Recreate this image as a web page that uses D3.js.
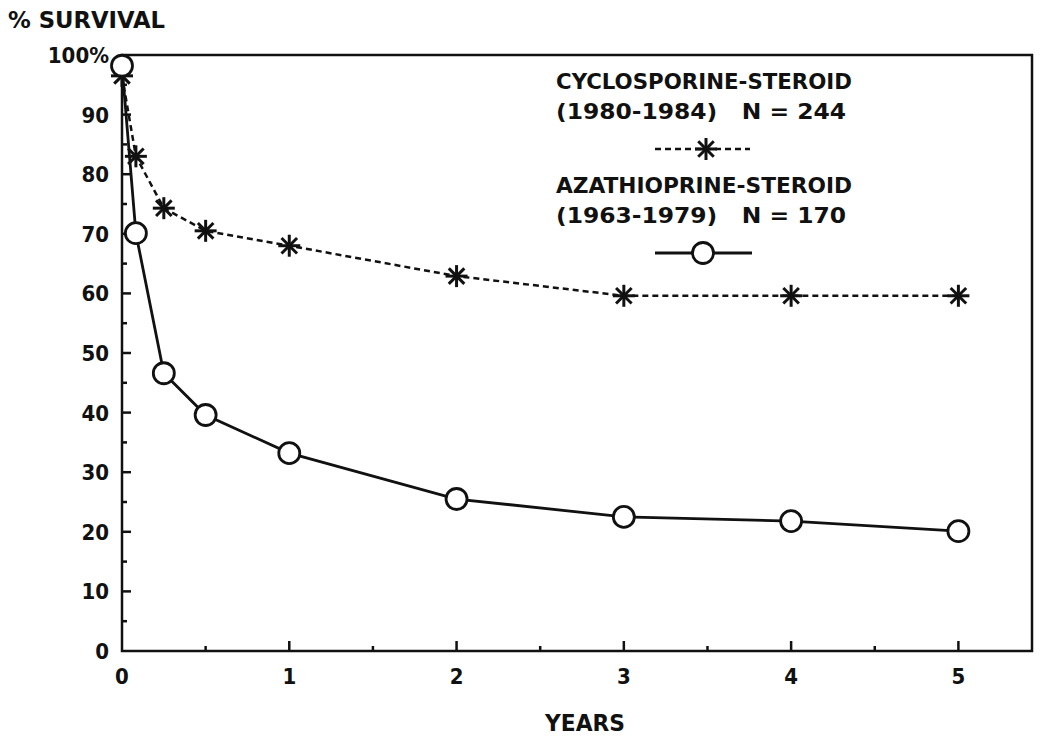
<!DOCTYPE html>
<html>
<head>
<meta charset="utf-8">
<script src="https://cdn.jsdelivr.net/npm/d3@7"></script>
<style>
  body { margin: 0; background: #fff; }
  text { font-family: "DejaVu Sans Condensed", "DejaVu Sans", sans-serif; font-stretch: condensed; font-weight: bold; fill: #111; }
</style>
</head>
<body>
<svg id="chart" width="1050" height="738"></svg>
<script>
// data (years, % survival)
var years = [0, 0.083, 0.25, 0.5, 1, 2, 3, 4, 5];
var cyclosporine = [96.5, 83, 74.3, 70.5, 68, 62.9, 59.6, 59.6, 59.6];
var azathioprine = [98.2, 70.1, 46.6, 39.6, 33.2, 25.5, 22.5, 21.8, 20.1];

var xTicks = [0, 1, 2, 3, 4, 5];
var yTicks = [0, 10, 20, 30, 40, 50, 60, 70, 80, 90, 100];

var svg = d3.select("#chart");

var x = d3.scaleLinear().domain([0, 5.44]).range([122, 1032]);
var y = d3.scaleLinear().domain([0, 100]).range([651, 55]);

// frame
svg.append("rect")
	.attr("x", x(0)).attr("y", y(100))
	.attr("width", x(5.44) - x(0)).attr("height", y(0) - y(100))
	.attr("fill", "none").attr("stroke", "#111").attr("stroke-width", 2.5);

// y ticks, inward, minor every 5
var yMinor = d3.range(5, 100, 10);
svg.append("g").selectAll("line.ymaj")
	.data(yTicks.slice(1, -1))
	.join("line")
	.attr("x1", x(0)).attr("x2", x(0) + 9)
	.attr("y1", function(d) {return y(d);}).attr("y2", function(d) {return y(d);})
	.attr("stroke", "#111").attr("stroke-width", 2.5);
svg.append("g").selectAll("line.ymin")
	.data(yMinor)
	.join("line")
	.attr("x1", x(0)).attr("x2", x(0) + 5)
	.attr("y1", function(d) {return y(d);}).attr("y2", function(d) {return y(d);})
	.attr("stroke", "#111").attr("stroke-width", 2.5);

// x ticks, inward, minor every half year
var xMinor = [0.5, 1.5, 2.5, 3.5, 4.5];
svg.append("g").selectAll("line.xmaj")
	.data(xTicks.slice(1))
	.join("line")
	.attr("x1", function(d) {return x(d);}).attr("x2", function(d) {return x(d);})
	.attr("y1", y(0)).attr("y2", y(0) - 10)
	.attr("stroke", "#111").attr("stroke-width", 2.5);
svg.append("g").selectAll("line.xmin")
	.data(xMinor)
	.join("line")
	.attr("x1", function(d) {return x(d);}).attr("x2", function(d) {return x(d);})
	.attr("y1", y(0)).attr("y2", y(0) - 5)
	.attr("stroke", "#111").attr("stroke-width", 2.5);

// tick labels
svg.append("g").selectAll("text")
	.data(yTicks)
	.join("text")
	.attr("x", x(0) - 13)
	.attr("y", function(d) {return y(d) + 8;})
	.attr("text-anchor", "end")
	.attr("font-size", 22)
	.text(function(d) {return d === 100 ? "100%" : d;});

svg.append("g").selectAll("text")
	.data(xTicks)
	.join("text")
	.attr("x", function(d) {return x(d);})
	.attr("y", 684)
	.attr("text-anchor", "middle")
	.attr("font-size", 22)
	.text(function(d) {return d;});

svg.append("text").attr("x", 8).attr("y", 28).attr("font-size", 23)
	.attr("textLength", 157).attr("lengthAdjust", "spacingAndGlyphs")
	.text("% SURVIVAL");
svg.append("text").attr("x", 585).attr("y", 731).attr("font-size", 23)
	.attr("text-anchor", "middle")
	.attr("textLength", 80).attr("lengthAdjust", "spacingAndGlyphs")
	.text("YEARS");

// lines
var line = d3.line()
	.x(function(d) {return x(d[0]);})
	.y(function(d) {return y(d[1]);});

svg.append("path")
	.datum(d3.zip(years, cyclosporine))
	.attr("d", line)
	.attr("fill", "none").attr("stroke", "#111")
	.attr("stroke-width", 2.5).attr("stroke-dasharray", "6,4");

svg.append("path")
	.datum(d3.zip(years, azathioprine))
	.attr("d", line)
	.attr("fill", "none").attr("stroke", "#111")
	.attr("stroke-width", 2.8);

// markers
function star(g, cx, cy) {
	var r = 11;
	[0, 45, 90, 135].forEach(function(a) {
		var rad = a * Math.PI / 180;
		g.append("line")
			.attr("x1", cx - r * Math.cos(rad)).attr("y1", cy - r * Math.sin(rad))
			.attr("x2", cx + r * Math.cos(rad)).attr("y2", cy + r * Math.sin(rad))
			.attr("stroke", "#111").attr("stroke-width", 3);
	});
}
function ring(g, cx, cy) {
	g.append("circle").attr("cx", cx).attr("cy", cy).attr("r", 10.5)
		.attr("fill", "#fff").attr("stroke", "#111").attr("stroke-width", 2.8);
}

var marks = svg.append("g");
d3.zip(years, cyclosporine).forEach(function(d) {star(marks, x(d[0]), y(d[1]));});
d3.zip(years, azathioprine).forEach(function(d) {ring(marks, x(d[0]), y(d[1]));});

// legend
var leg = svg.append("g");
var legText = [
	["CYCLOSPORINE-STEROID", 89],
	["(1980-1984)   N = 244", 119],
	["AZATHIOPRINE-STEROID", 193],
	["(1963-1979)   N = 170", 223]
];
leg.selectAll("text")
	.data(legText)
	.join("text")
	.attr("x", 556)
	.attr("y", function(d) {return d[1];})
	.attr("font-size", 21)
	.attr("textLength", function(d, i) {return i % 2 ? 290 : 296;})
	.attr("lengthAdjust", "spacingAndGlyphs")
	.attr("xml:space", "preserve")
	.text(function(d) {return d[0];});

leg.append("line").attr("x1", 655).attr("x2", 750).attr("y1", 149).attr("y2", 149)
	.attr("stroke", "#111").attr("stroke-width", 2.5).attr("stroke-dasharray", "6,4");
star(leg, 706, 149);
leg.append("line").attr("x1", 655).attr("x2", 752).attr("y1", 253).attr("y2", 253)
	.attr("stroke", "#111").attr("stroke-width", 2.8);
ring(leg, 703, 253);
</script>
</body>
</html>
